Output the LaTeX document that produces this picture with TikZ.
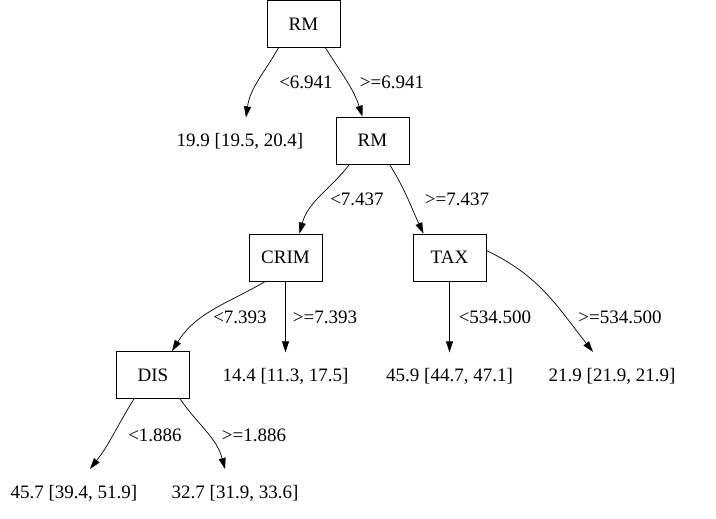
\documentclass[tikz,border=0pt]{standalone}
\usepackage{fontspec}
\setmainfont{Liberation Serif}
\usetikzlibrary{arrows.meta}
\begin{document}
\begin{tikzpicture}[x=1pt,y=1pt,
  every node/.style={font=\fontsize{19}{22}\selectfont, inner sep=0pt},
  split/.style={draw, line width=0.8pt, minimum width=73pt, minimum height=47pt},
  leaf/.style={minimum width=73pt, minimum height=47pt},
  edge/.style={line width=0.7pt, -{Triangle[length=11pt,width=7pt]}},
  lbl/.style={anchor=center}]
\useasboundingbox (0,0) rectangle (716,-519);

% internal split nodes
\node[split] (rm1)  at (303.5,-24)   {RM};
\node[split] (rm2)  at (372.5,-140.5) {RM};
\node[split] (crim) at (285.5,-257.5) {CRIM};
\node[split] (tax)  at (449.5,-257.5) {TAX};
\node[split] (dis)  at (153,-375)    {DIS};

% leaf predictions
\node[leaf] (l1) at (240,-141) {19.9 [19.5, 20.4]};
\node[leaf] (l2) at (285.5,-376) {14.4 [11.3, 17.5]};
\node[leaf] (l3) at (449.5,-376) {45.9 [44.7, 47.1]};
\node[leaf] (l4) at (612,-376) {21.9 [21.9, 21.9]};
\node[leaf] (l5) at (74,-493) {45.7 [39.4, 51.9]};
\node[leaf] (l6) at (235,-493) {32.7 [31.9, 33.6]};

% anchor points where the curves meet the leaves
\coordinate (e1) at (246,-117.5);
\coordinate (e4) at (593,-352);
\coordinate (e5) at (90,-469);
\coordinate (e6) at (225,-469);

% branches
\draw[edge] ([xshift=-25pt]rm1.south) to[out=240,in=82] (e1);
\draw[edge] ([xshift=22pt]rm1.south) to[out=-58,in=108] ([xshift=-10pt]rm2.north);
\draw[edge] ([xshift=-23pt]rm2.south) to[out=-128,in=75] ([xshift=14pt]crim.north);
\draw[edge] ([xshift=17pt]rm2.south) to[out=-58,in=115] ([xshift=-26pt]tax.north);
\draw[edge] ([xshift=-20pt]crim.south) to[out=-150,in=58] ([xshift=19pt]dis.north);
\draw[edge] (crim.south) -- (l2.north);
\draw[edge] (tax.south) -- (l3.north);
\draw[edge] ([yshift=-17pt]tax.north east) to[out=-25,in=128] (e4);
\draw[edge] ([xshift=-19pt]dis.south) to[out=-122,in=52] (e5);
\draw[edge] ([xshift=27pt]dis.south) to[out=-55,in=105] (e6);

% branch conditions
\node[lbl] (c1) at (306,-82)  {<6.941};
\node[lbl] (c2) at (392,-82)  {>=6.941};
\node[lbl] (c3) at (357,-199) {<7.437};
\node[lbl] (c4) at (457,-199) {>=7.437};
\node[lbl] (c5) at (240,-317) {<7.393};
\node[lbl] (c6) at (325,-317) {>=7.393};
\node[lbl] (c7) at (495,-317) {<534.500};
\node[lbl] (c8) at (620,-317) {>=534.500};
\node[lbl] (c9) at (155,-435) {<1.886};
\node[lbl] (c10) at (254,-435) {>=1.886};
\end{tikzpicture}
\end{document}
